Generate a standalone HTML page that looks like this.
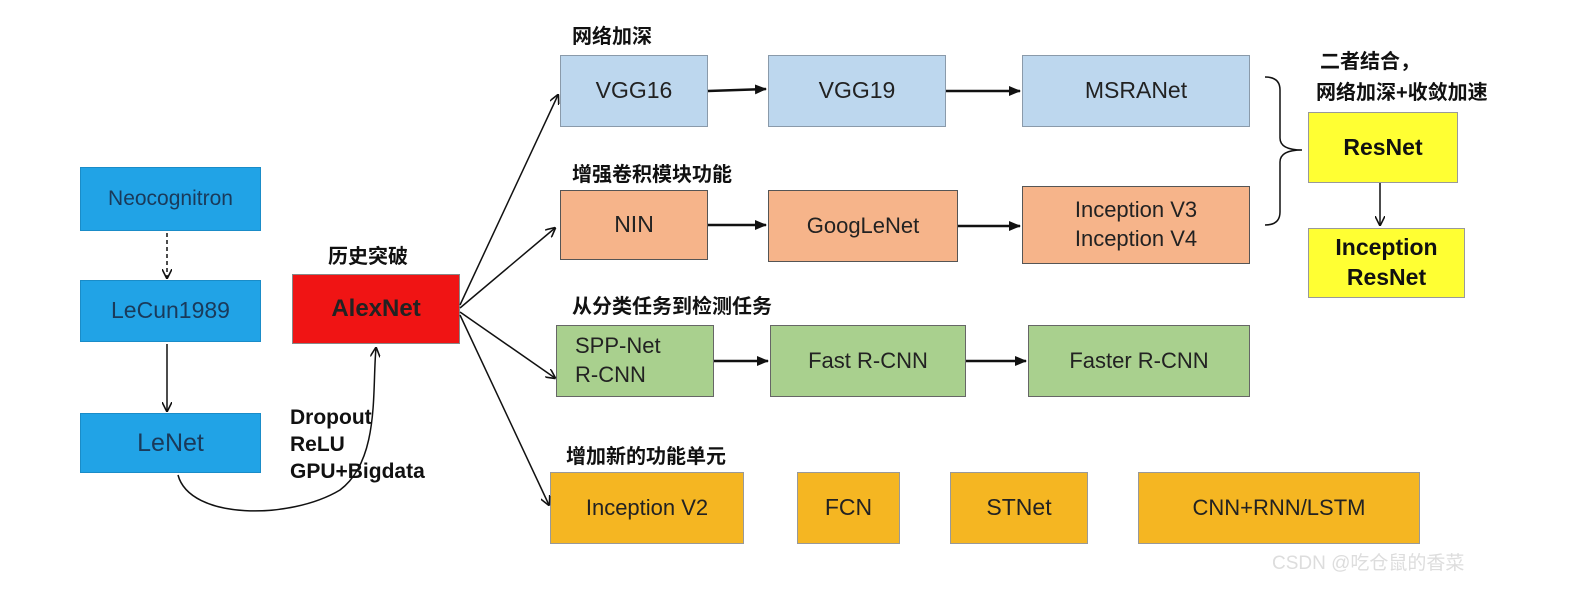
<!DOCTYPE html>
<html><head><meta charset="utf-8"><style>
body{margin:0;width:1595px;height:593px;background:#fff;position:relative;overflow:hidden;font-family:"Liberation Sans","Noto Sans CJK SC",sans-serif}
.b{position:absolute;display:flex;align-items:center;justify-content:center;text-align:center;box-sizing:border-box;font-size:23px;color:#222;line-height:1.3}
.bl{background:#21a3e6;border:1px solid #1a8cc8;font-size:21px;color:#1a3a5a}
.lb{background:#bdd7ee;border:1.5px solid #8a9aaa}
.sa{background:#f6b48a;border:1.5px solid #555}
.gr{background:#a9d08e;border:1.5px solid #666}
.go{background:#f5b622;border:1.5px solid #999}
.ye{background:#ffff33;border:1.5px solid #999;font-weight:bold;font-size:23px;color:#111}
.t{position:absolute;font-weight:bold;font-size:20px;color:#111;white-space:nowrap}
</style></head><body>
<div class="b bl" style="left:80px;top:167px;width:181px;height:64px">Neocognitron</div>
<div class="b bl" style="left:80px;top:280px;width:181px;height:62px;font-size:23px">LeCun1989</div>
<div class="b bl" style="left:80px;top:413px;width:181px;height:60px;font-size:25px">LeNet</div>
<div class="b" style="left:292px;top:274px;width:168px;height:70px;background:#f01414;border:1.5px solid #888;font-weight:bold;font-size:24px;color:#222">AlexNet</div>
<div class="b lb" style="left:560px;top:55px;width:148px;height:72px">VGG16</div>
<div class="b lb" style="left:768px;top:55px;width:178px;height:72px">VGG19</div>
<div class="b lb" style="left:1022px;top:55px;width:228px;height:72px">MSRANet</div>
<div class="b sa" style="left:560px;top:190px;width:148px;height:70px">NIN</div>
<div class="b sa" style="left:768px;top:190px;width:190px;height:72px;font-size:22px">GoogLeNet</div>
<div class="b sa" style="left:1022px;top:186px;width:228px;height:78px;font-size:22px">Inception V3<br>Inception V4</div>
<div class="b gr" style="left:556px;top:325px;width:158px;height:72px;justify-content:flex-start;text-align:left;padding-left:18px;font-size:22px">SPP-Net<br>R-CNN</div>
<div class="b gr" style="left:770px;top:325px;width:196px;height:72px;font-size:22px">Fast R-CNN</div>
<div class="b gr" style="left:1028px;top:325px;width:222px;height:72px;font-size:22px">Faster R-CNN</div>
<div class="b go" style="left:550px;top:472px;width:194px;height:72px;font-size:22px">Inception V2</div>
<div class="b go" style="left:797px;top:472px;width:103px;height:72px">FCN</div>
<div class="b go" style="left:950px;top:472px;width:138px;height:72px">STNet</div>
<div class="b go" style="left:1138px;top:472px;width:282px;height:72px;font-size:22px">CNN+RNN/LSTM</div>
<div class="b ye" style="left:1308px;top:112px;width:150px;height:71px">ResNet</div>
<div class="b ye" style="left:1308px;top:228px;width:157px;height:70px">Inception<br>ResNet</div>
<div class="t" style="left:572px;top:20px">网络加深</div>
<div class="t" style="left:572px;top:158px">增强卷积模块功能</div>
<div class="t" style="left:572px;top:290px">从分类任务到检测任务</div>
<div class="t" style="left:566px;top:440px">增加新的功能单元</div>
<div class="t" style="left:328px;top:240px">历史突破</div>
<div class="t" style="left:1320px;top:45px">二者结合，</div>
<div class="t" style="left:1316px;top:76px">网络加深+收敛加速</div>
<div class="t" style="left:290px;top:404px;line-height:27px;font-size:21px">Dropout<br>ReLU<br>GPU+Bigdata</div>
<div style="position:absolute;left:1272px;top:548px;font-size:19px;color:#ddd">CSDN @吃仓鼠的香菜</div>
<svg width="1595" height="593" style="position:absolute;left:0;top:0">
<defs><marker id="a" markerWidth="10" markerHeight="10" refX="9" refY="5" orient="auto" markerUnits="userSpaceOnUse"><path d="M0,0 L10,5 L0,10" fill="none" stroke="#111" stroke-width="1.6"/></marker>
<marker id="f" markerWidth="12" markerHeight="10" refX="11" refY="5" orient="auto" markerUnits="userSpaceOnUse"><path d="M0,0 L12,5 L0,10 Z" fill="#111"/></marker></defs>
<g stroke="#111" fill="none" stroke-width="1.5">
<line x1="167" y1="233" x2="167" y2="278" stroke-dasharray="4,3" marker-end="url(#a)"/>
<line x1="167" y1="344" x2="167" y2="411" marker-end="url(#a)"/>
<path d="M178,475 C190,520 290,520 340,490 C380,460 372,390 376,348" marker-end="url(#a)"/>
<line x1="460" y1="305" x2="558" y2="95" marker-end="url(#a)"/>
<line x1="460" y1="308" x2="555" y2="228" marker-end="url(#a)"/>
<line x1="460" y1="312" x2="555" y2="378" marker-end="url(#a)"/>
<line x1="460" y1="315" x2="549" y2="505" marker-end="url(#a)"/>
<line x1="1380" y1="183" x2="1380" y2="225" marker-end="url(#a)"/>
<path d="M1265,77 Q1280,77 1280,90 L1280,138 Q1280,150 1302,150 Q1280,150 1280,162 L1280,212 Q1280,225 1265,225"/>
</g>
<g stroke="#111" stroke-width="2.5">
<line x1="708" y1="91" x2="766" y2="89" marker-end="url(#f)"/>
<line x1="946" y1="91" x2="1020" y2="91" marker-end="url(#f)"/>
<line x1="708" y1="225" x2="766" y2="225" marker-end="url(#f)"/>
<line x1="958" y1="226" x2="1020" y2="226" marker-end="url(#f)"/>
<line x1="714" y1="361" x2="768" y2="361" marker-end="url(#f)"/>
<line x1="966" y1="361" x2="1026" y2="361" marker-end="url(#f)"/>
</g>
</svg>
</body></html>
